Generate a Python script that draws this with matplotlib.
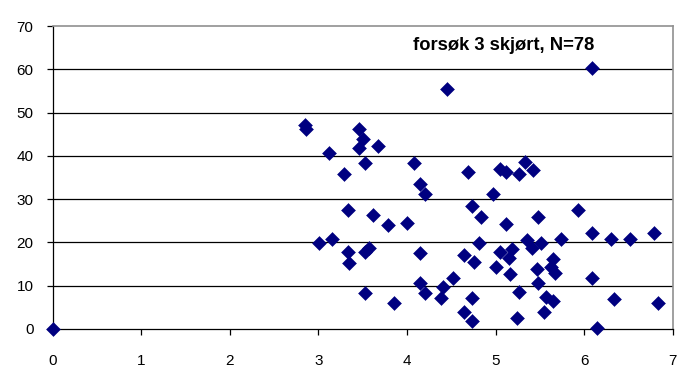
import matplotlib
matplotlib.use("Agg")
import matplotlib.pyplot as plt

plt.rcParams['font.family'] = ['Liberation Sans', 'DejaVu Sans']

x_vals = [0.0, 2.85, 2.86, 3.458, 3.50, 3.458, 3.676, 3.116, 3.526, 4.079,
          3.289, 4.147, 4.203, 3.331, 3.613, 3.782, 3.997, 3.010, 3.157, 3.331,
          3.349, 3.53, 3.57, 4.147, 3.526, 3.850, 4.147, 4.203, 4.686, 5.050,
          5.118, 5.332, 5.419, 5.268, 4.968, 4.731, 4.836, 5.115, 5.483, 4.817,
          4.647, 4.757, 5.050, 5.189, 5.155, 5.352, 5.408, 5.510, 5.005, 5.163,
          5.465, 5.483, 4.516, 4.403, 4.384, 4.731, 4.647, 4.731, 5.268, 5.246,
          5.57, 5.65, 5.547, 4.455, 6.086, 5.934, 5.739, 6.086, 6.300, 6.518,
          6.793, 5.652, 5.623, 5.671, 6.086, 6.341, 6.838, 6.149]
y_vals = [0.0, 47.2, 46.3, 46.2, 43.8, 41.7, 42.3, 40.6, 38.4, 38.4,
          35.7, 33.5, 31.3, 27.6, 26.3, 24.0, 24.4, 19.9, 20.9, 17.9,
          15.3, 17.9, 18.7, 17.6, 8.4, 6.1, 10.7, 8.4, 36.2, 36.9,
          36.2, 38.5, 36.7, 35.7, 31.3, 28.5, 25.9, 24.2, 25.9, 19.9,
          17.1, 15.4, 17.7, 18.4, 16.3, 20.6, 18.6, 19.8, 14.4, 12.7,
          13.8, 10.6, 11.7, 9.6, 7.1, 7.2, 4.0, 1.8, 8.5, 2.5,
          7.5, 6.5, 4.0, 55.4, 60.2, 27.5, 20.9, 22.1, 20.9, 20.9,
          22.1, 16.1, 14.4, 12.9, 11.7, 6.9, 6.1, 0.2]
x_ticks = [0, 1, 2, 3, 4, 5, 6, 7]
y_ticks = [0, 10, 20, 30, 40, 50, 60, 70]
title_text = "forsøk 3 skjørt, N=78"

fig = plt.figure(figsize=(6.81, 3.73), dpi=100)
ax = fig.add_axes([52.7/681, 1 - 329/373, 620/681, 303/373])

for yv in y_ticks[1:-1]:
    ax.axhline(yv, color='black', lw=0.9, zorder=1)

ax.scatter(x_vals, y_vals, marker='D', s=50, color='#000080', edgecolors='#000080',
           linewidths=0.4, zorder=3, clip_on=False)

ax.set_xlim(0, 7)
ax.set_ylim(0, 70)
ax.set_xticks(x_ticks)
ax.set_yticks(y_ticks)
ax.set_xticklabels([str(v) for v in x_ticks])
ax.set_yticklabels([str(v) for v in y_ticks])
ax.tick_params(axis='x', direction='out', length=4.3, width=0.9, pad=13.5, labelsize=11)
ax.tick_params(axis='y', direction='out', length=4.3, width=0.9, pad=9.5, labelsize=11)

for s in ['left', 'bottom']:
    ax.spines[s].set_color('black')
    ax.spines[s].set_linewidth(0.9)
for s in ['top', 'right']:
    ax.spines[s].set_color('#909090')
    ax.spines[s].set_linewidth(1.2)

ax.text(0.727, 0.937, title_text, transform=ax.transAxes, ha='center', va='center',
        fontsize=13.2, fontweight='bold')

fig.savefig("out.png", dpi=100, facecolor='white')
